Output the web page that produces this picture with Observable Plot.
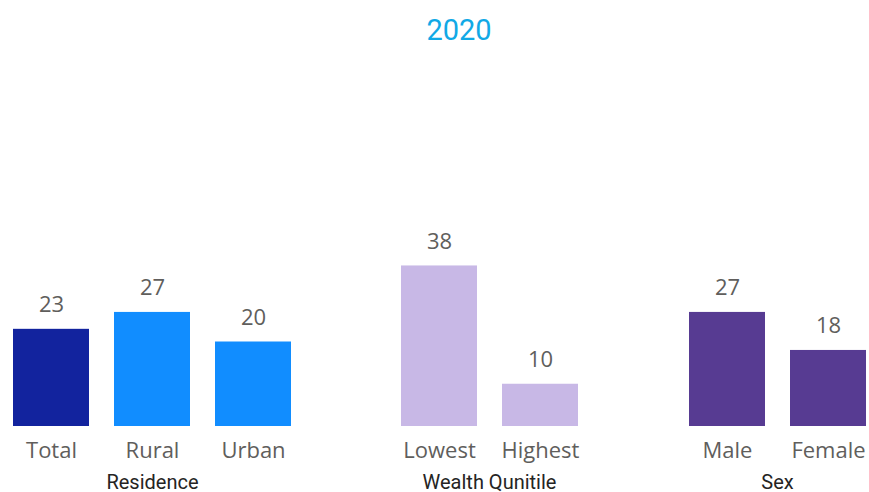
<!DOCTYPE html>
<html><head><meta charset="utf-8">
<script src="https://cdn.jsdelivr.net/npm/d3@7"></script>
<script src="https://cdn.jsdelivr.net/npm/@observablehq/plot@0.6"></script>
<style>
html,body{margin:0;padding:0;background:#fff;overflow:hidden;}
#wrap{position:relative;width:869px;height:492px;overflow:hidden;}
#title{position:absolute;top:13px;left:0;width:918px;text-align:center;font:400 29px Roboto,sans-serif;color:#11A9E6;}
.panel{position:absolute;top:0;}
</style></head><body>
<div id="wrap"><div id="title"></div></div>
<script>
const chartTitle = "2020";
const groupLabels = ["Residence", "Wealth Qunitile", "Sex"];
const residenceCats = ["Total", "Rural", "Urban"];
const residenceVals = [23, 27, 20];
const wealthCats = ["Lowest", "Highest"];
const wealthVals = [38, 10];
const sexCats = ["Male", "Female"];
const sexVals = [27, 18];

const allCats = [...residenceCats, ...wealthCats, ...sexCats];
const palette = ["#12239E", "#118DFF", "#118DFF", "#C8B8E6", "#C8B8E6", "#573B92", "#573B92"];

document.getElementById("title").textContent = chartTitle;

const panels = [
  {label: groupLabels[0], cats: residenceCats, vals: residenceVals, left: 2, width: 300},
  {label: groupLabels[1], cats: wealthCats, vals: wealthVals, left: 390, width: 198},
  {label: groupLabels[2], cats: sexCats, vals: sexVals, left: 678, width: 198}
];

const wrap = document.getElementById("wrap");
for (const p of panels) {
  const data = p.cats.map((c, i) => ({cat: c, value: p.vals[i]}));
  const chart = Plot.plot({
    width: p.width,
    height: 492,
    marginTop: 88,
    marginBottom: 66,
    marginLeft: 0,
    marginRight: 0,
    style: {fontFamily: "'Open Sans', sans-serif", background: "transparent", overflow: "visible"},
    x: {domain: p.cats, paddingInner: 0.25, paddingOuter: 0.1, axis: null},
    y: {domain: [0, 80], axis: null},
    color: {domain: allCats, range: palette},
    marks: [
      Plot.barY(data, {x: "cat", y: "value", fill: "cat"}),
      Plot.text(data, {x: "cat", y: "value", text: d => String(d.value), dy: -24, fontSize: 22, fill: "#605E5C"}),
      Plot.axisX({tickSize: 0, tickPadding: 16, fontSize: 22, fill: "#605E5C", label: null}),
      Plot.text([p.label], {frameAnchor: "bottom", dy: 62, fontSize: 20, fill: "#252423", fontFamily: "Roboto, sans-serif"})
    ]
  });
  chart.classList.add("panel");
  chart.style.left = p.left + "px";
  wrap.appendChild(chart);
}
</script>
</body></html>
